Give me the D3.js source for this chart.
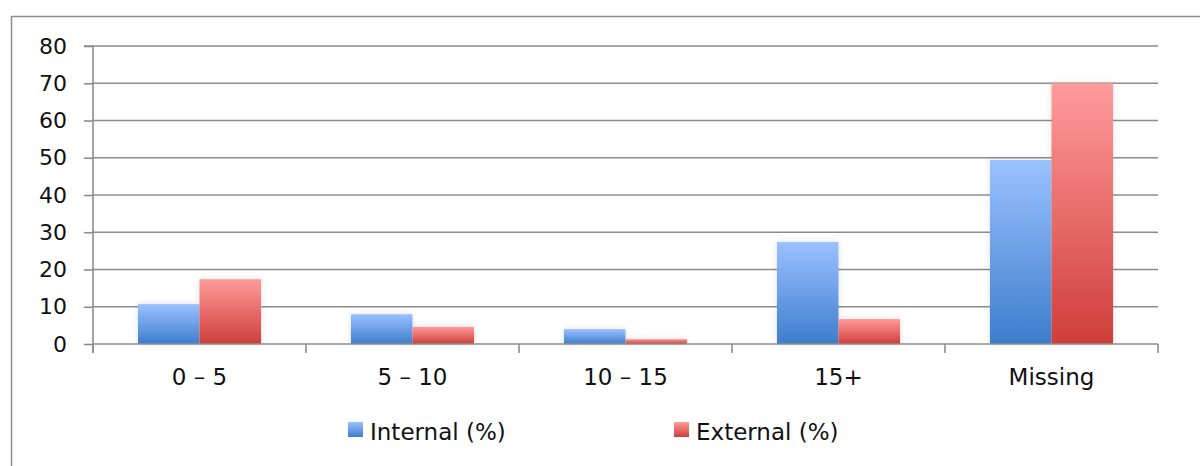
<!DOCTYPE html>
<html>
<head>
<meta charset="utf-8">
<script src="https://cdn.jsdelivr.net/npm/d3@7"></script>
<style>
  html, body { margin: 0; padding: 0; background: #fff; }
  svg { display: block; }
  text { font-family: "DejaVu Sans", sans-serif; fill: #111; }
</style>
</head>
<body>
<svg id="chart" width="1200" height="466"></svg>
<script>
// Age bands and the share of each group (%)
const categories = ["0 – 5", "5 – 10", "10 – 15", "15+", "Missing"];
const internalPct = [10.7, 8.0, 4.0, 27.4, 49.4];
const externalPct = [17.4, 4.6, 1.3, 6.7, 70.0];
const seriesNames = ["Internal (%)", "External (%)"];
const yTicks = [0, 10, 20, 30, 40, 50, 60, 70, 80];

const FONT = "'DejaVu Sans', sans-serif";
const svg = d3.select("#chart");
const margin = { left: 93, right: 1158, top: 46, bottom: 344 };

const x = d3.scaleBand().domain(categories).range([margin.left, margin.right]).paddingInner(0).paddingOuter(0);
const x1 = d3.scaleBand().domain([0, 1]).range([0, x.bandwidth()]).paddingInner(0).paddingOuter(0.73);
const y = d3.scaleLinear().domain([0, 80]).range([margin.bottom, margin.top]);

const defs = svg.append("defs");
const gradients = [
  { id: "gInt", top: "#9bc1ff", bottom: "#3d7dcc" },
  { id: "gExt", top: "#ff9b9b", bottom: "#cf3e3a" }
];
gradients.forEach(g => {
  const lg = defs.append("linearGradient").attr("id", g.id)
    .attr("x1", 0).attr("y1", 0).attr("x2", 0).attr("y2", 1);
  lg.append("stop").attr("offset", "0%").attr("stop-color", g.top);
  lg.append("stop").attr("offset", "100%").attr("stop-color", g.bottom);
});
// soft shadow around bars
const f = defs.append("filter").attr("id", "shadow")
  .attr("x", "-20%").attr("y", "-10%").attr("width", "140%").attr("height", "120%");
f.append("feDropShadow").attr("dx", 0).attr("dy", 0).attr("stdDeviation", 3)
  .attr("flood-color", "#000").attr("flood-opacity", 0.12);

// outer chart frame
svg.append("rect").attr("x", 11.5).attr("y", 16.5).attr("width", 1200).attr("height", 500)
  .attr("fill", "none").attr("stroke", "#8c8c8c").attr("stroke-width", 1.5);

// horizontal gridlines
svg.append("g").selectAll("line").data(yTicks.filter(d => d > 0)).join("line")
  .attr("x1", margin.left).attr("x2", margin.right)
  .attr("y1", d => y(d)).attr("y2", d => y(d))
  .attr("stroke", "#8c8c8c").attr("stroke-width", 1.6);

// bars
const series = [internalPct, externalPct];
const fills = ["url(#gInt)", "url(#gExt)"];
const barG = svg.append("g").attr("filter", "url(#shadow)");
series.forEach((vals, si) => {
  barG.append("g").selectAll("rect").data(vals).join("rect")
    .attr("x", (d, i) => x(categories[i]) + x1(si))
    .attr("width", x1.bandwidth())
    .attr("y", d => y(d))
    .attr("height", d => y(0) - y(d))
    .attr("fill", fills[si]);
});

// y axis
const yAxis = d3.axisLeft(y).tickValues(yTicks).tickSize(9).tickPadding(17);
const yg = svg.append("g").attr("transform", `translate(${margin.left},0)`).call(yAxis);
yg.select(".domain").attr("stroke", "#8c8c8c").attr("stroke-width", 1.6)
  .attr("d", `M-9,${y(80)}H0V${y(0) + 9}`);
yg.selectAll(".tick line").attr("stroke", "#8c8c8c").attr("stroke-width", 1.6);
yg.selectAll(".tick text").style("font-size", "22px").attr("fill", "#111")
  .style("font-family", FONT);

// x axis
const xAxis = d3.axisBottom(x).tickSize(0).tickPadding(25);
const xg = svg.append("g").attr("transform", `translate(0,${margin.bottom})`).call(xAxis);
xg.select(".domain").attr("stroke", "#8c8c8c").attr("stroke-width", 1.6)
  .attr("d", `M${margin.left},0H${margin.right}`);
xg.selectAll(".tick text").style("font-size", "23px").attr("fill", "#111")
  .style("font-family", FONT);
// category boundary ticks
const bounds = categories.map(c => x(c)).concat([margin.right]);
xg.append("g").selectAll("line").data(bounds).join("line")
  .attr("x1", d => d).attr("x2", d => d).attr("y1", 0).attr("y2", 9)
  .attr("stroke", "#8c8c8c").attr("stroke-width", 1.6);

// legend
const legendPos = [348, 674];
const legend = svg.append("g");
seriesNames.forEach((name, i) => {
  legend.append("rect").attr("x", legendPos[i]).attr("y", 422).attr("width", 15).attr("height", 15)
    .attr("fill", fills[i]);
  legend.append("text").attr("x", legendPos[i] + 22).attr("y", 440)
    .style("font-size", "23px").style("font-family", FONT).text(name);
});
</script>
</body>
</html>
